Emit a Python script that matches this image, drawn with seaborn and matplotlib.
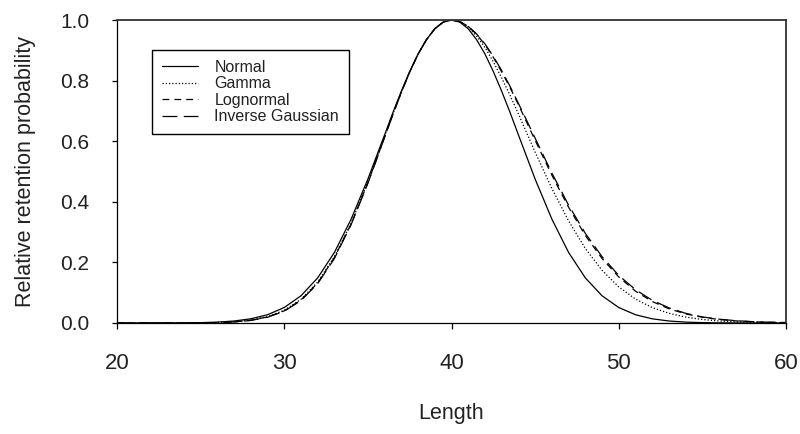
import matplotlib
matplotlib.use("Agg")
import matplotlib.pyplot as plt
import seaborn as sns
import numpy as np

# ---- data ----
length = [20, 21, 22, 23, 24, 25, 26, 27, 28, 29, 30, 31, 32, 33, 34,
          35, 35.5, 36, 36.5, 37, 37.5, 38, 38.5, 39, 39.5, 40,
          40.5, 41, 41.5, 42, 42.5, 43, 43.5, 44, 44.5, 45,
          46, 47, 48, 49, 50, 51, 52, 53, 54, 55, 56, 57, 58, 59, 60]

normal = [0.0000, 0.0000, 0.0001, 0.0002, 0.0005, 0.0012, 0.0029, 0.0066, 0.0138, 0.0273,
          0.0511, 0.0899, 0.149, 0.233, 0.343,
          0.475, 0.548, 0.621, 0.695, 0.765, 0.830, 0.888, 0.935, 0.971, 0.993, 1.000,
          0.993, 0.971, 0.935, 0.888, 0.830, 0.765, 0.695, 0.621, 0.548, 0.475,
          0.343, 0.233, 0.149, 0.0899, 0.0511, 0.0273, 0.0138, 0.0066, 0.0029, 0.0012,
          0.0005, 0.0002, 0.0001, 0.0000, 0.0000]

gamma = [0.0, 0.0, 0.0, 0.0001, 0.0002, 0.0006, 0.0016, 0.0041, 0.0097, 0.021,
         0.042, 0.078, 0.135, 0.219, 0.330,
         0.466, 0.540, 0.616, 0.691, 0.763, 0.829, 0.887, 0.935, 0.971, 0.993, 1.000,
         0.994, 0.976, 0.947, 0.909, 0.862, 0.809, 0.751, 0.690, 0.627, 0.564,
         0.444, 0.337, 0.246, 0.174, 0.119, 0.079, 0.051, 0.032, 0.0195, 0.0116,
         0.0067, 0.0038, 0.0021, 0.0012, 0.0006]

lognormal = [0.0, 0.0, 0.0, 0.0, 0.0002, 0.0005, 0.0014, 0.0037, 0.0090, 0.020,
             0.040, 0.076, 0.132, 0.216, 0.327,
             0.463, 0.538, 0.614, 0.690, 0.762, 0.828, 0.887, 0.935, 0.971, 0.993, 1.000,
             0.995, 0.979, 0.953, 0.919, 0.877, 0.829, 0.777, 0.721, 0.662, 0.603,
             0.488, 0.382, 0.289, 0.213, 0.152, 0.105, 0.071, 0.047, 0.030, 0.019,
             0.0116, 0.0070, 0.0041, 0.0024, 0.0013]

inv_gauss = [0.0, 0.0, 0.0, 0.0, 0.0001, 0.0004, 0.0013, 0.0034, 0.0084, 0.019,
             0.039, 0.074, 0.130, 0.213, 0.325,
             0.461, 0.536, 0.613, 0.688, 0.761, 0.828, 0.887, 0.935, 0.971, 0.993, 1.000,
             0.995, 0.979, 0.954, 0.921, 0.880, 0.833, 0.781, 0.725, 0.668, 0.610,
             0.495, 0.389, 0.296, 0.219, 0.157, 0.110, 0.075, 0.050, 0.032, 0.020,
             0.0126, 0.0077, 0.0045, 0.0026, 0.0015]

series_names = ["Normal", "Gamma", "Lognormal", "Inverse Gaussian"]
x_ticks = [20, 30, 40, 50, 60]
y_ticks = [0.0, 0.2, 0.4, 0.6, 0.8, 1.0]

# ---- style ----
sns.set_theme(style="ticks")
plt.rcParams["font.family"] = ["Liberation Sans", "DejaVu Sans"]

fig = plt.figure(figsize=(8.0, 4.34), dpi=100)
ax = fig.add_axes([117 / 800, 1 - 323 / 434, (786 - 117) / 800, (323 - 20) / 434])

styles = [
    "-",
    (0, (1.0, 1.6)),
    (0, (5.5, 4.0)),
    (0, (12.0, 5.0)),
]
for name, vals, ls in zip(series_names, [normal, gamma, lognormal, inv_gauss], styles):
    sns.lineplot(x=length, y=vals, ax=ax, color="black", linewidth=0.9,
                 linestyle=ls, label=name, estimator=None, sort=False)

ax.set_xlim(20, 60)
ax.set_ylim(0, 1.0)
ax.set_xticks(x_ticks)
ax.set_yticks(y_ticks)
ax.set_xticklabels([str(t) for t in x_ticks])
ax.set_yticklabels([f"{t:.1f}" for t in y_ticks])

text_color = "#222222"
ax.tick_params(axis="x", direction="out", length=4.3, width=0.9, color="black",
               labelsize=16, pad=17, labelcolor=text_color)
ax.tick_params(axis="y", direction="out", length=3.6, width=0.9, color="black",
               labelsize=15, pad=16.5, labelcolor=text_color)

for side in ["left", "bottom", "top", "right"]:
    ax.spines[side].set_visible(True)
    ax.spines[side].set_color("black")
    ax.spines[side].set_linewidth(0.9)
ax.spines["top"].set_linewidth(1.3)
ax.spines["right"].set_linewidth(1.3)
ax.spines["top"].set_color("#333333")
ax.spines["right"].set_color("#333333")

ax.set_xlabel("Length", fontsize=15.5, color=text_color, labelpad=21)
ax.set_ylabel("Relative retention probability", fontsize=15.5, color=text_color, labelpad=17)

leg = ax.legend(loc="upper left", bbox_to_anchor=((152 - 117) / 669, (323 - 50) / 303),
                borderaxespad=0, fontsize=11.5, frameon=True, fancybox=False,
                shadow=False, handlelength=2.3, handletextpad=1.0,
                labelspacing=0.1, borderpad=0.6)
frame = leg.get_frame()
frame.set_edgecolor("black")
frame.set_linewidth(1.0)
frame.set_facecolor("white")
frame.set_alpha(1.0)
for t in leg.get_texts():
    t.set_color(text_color)

fig.savefig("out.png", dpi=100, facecolor="white")
